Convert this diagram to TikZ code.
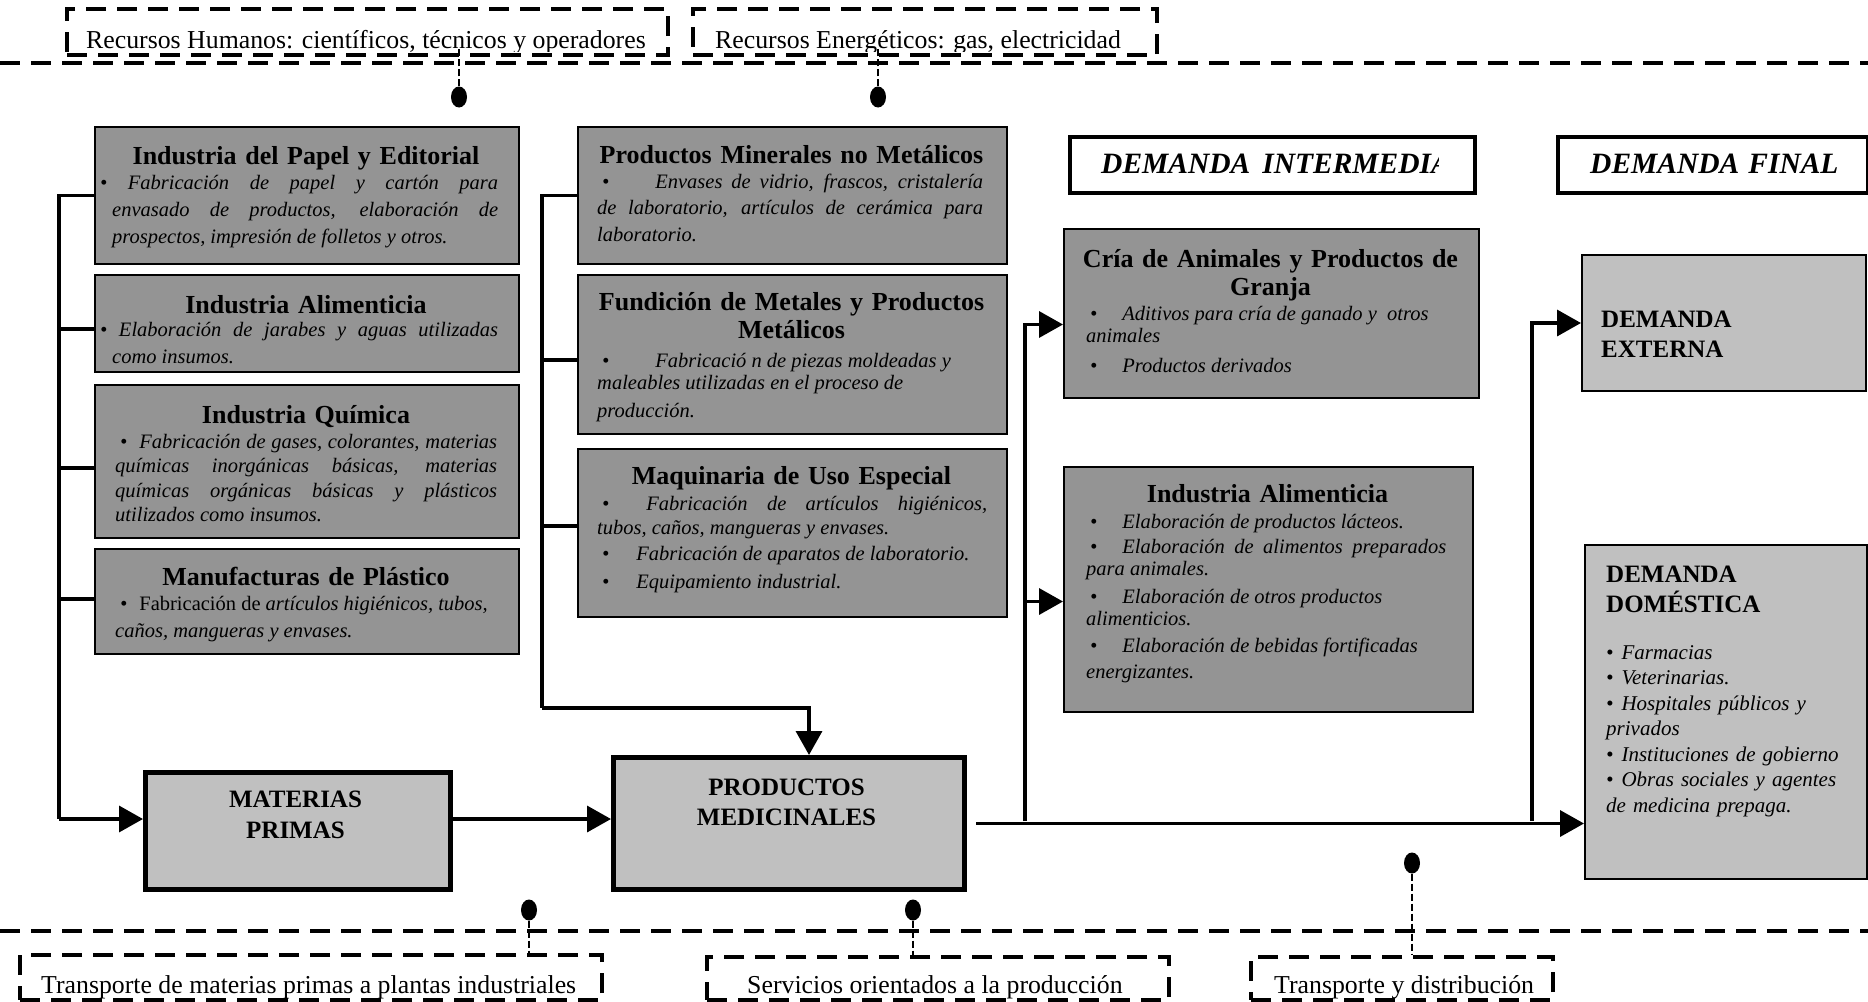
\documentclass[tikz,border=0pt]{standalone}
\usepackage{fontspec}
\setmainfont{Liberation Serif}
\usetikzlibrary{arrows.meta,shapes.geometric,calc}
\definecolor{dkgray}{RGB}{148,148,148}
\definecolor{ltgray}{RGB}{192,192,192}
\newcommand{\ttlf}{\fontsize{26}{28}\selectfont\bfseries}
\newcommand{\bdyfs}[1]{\fontsize{20.5}{#1}\selectfont\itshape}
\newcommand{\lblf}{\fontsize{25}{30}\selectfont\bfseries}
\newcommand{\rsf}{\fontsize{25.8}{30}\selectfont}
\newcommand{\dmf}{\fontsize{29.5}{32}\selectfont\bfseries\itshape}
\newcommand{\bul}[1]{\hspace*{5pt}\textbullet\hspace{#1}}
\newcommand{\bll}{\hspace*{4pt}\textbullet\hspace{25pt}}
\begin{document}
\begin{tikzpicture}[x=1pt,y=-1pt,
 dbox/.style={draw=black, line width=2pt, fill=dkgray, inner sep=0pt, anchor=north west},
 lbox/.style={draw=black, line width=5pt, fill=ltgray, inner sep=0pt, anchor=north west},
 ebox/.style={draw=black, line width=2pt, fill=ltgray, inner sep=0pt, anchor=north west},
 hbox/.style={draw=black, line width=4pt, fill=white, inner sep=0pt, anchor=north west},
 dashbox/.style={draw=black, line width=4pt, dash pattern=on 20pt off 11pt, inner sep=0pt, anchor=north west},
 ttl/.style={inner sep=0pt, anchor=base, font=\ttlf, align=center},
 bdy/.style={inner sep=0pt, anchor=base west, align=justify},
 lbl/.style={inner sep=0pt, anchor=base, font=\lblf, align=center},
 rs/.style={inner sep=0pt, anchor=base west, font=\rsf},
 conn/.style={line width=3.5pt},
 arr/.style={conn, -{Triangle[length=24pt,width=26pt]}},
 dline/.style={line width=4pt, dash pattern=on 20pt off 11pt},
 dotline/.style={line width=2.5pt, dash pattern=on 7pt off 3pt},
 blob/.style={ellipse, fill=black, minimum width=16pt, minimum height=21pt, inner sep=0pt},
]
\useasboundingbox (0,0) rectangle (1868,1001);

% ---------- top resources ----------
\begin{scope}
\clip (65,7) rectangle (666,51);
\node[rs] (T1) at (86,48) {Recursos Humanos: científicos, técnicos y operadores};
\end{scope}
\begin{scope}
\clip (691,7) rectangle (1155,51);
\node[rs] (T2) at (715,48) {Recursos Energéticos: gas, electricidad};
\end{scope}
\node[dashbox, minimum width=601pt, minimum height=46pt] (TB1) at (65,7) {};
\node[dashbox, minimum width=464pt, minimum height=46pt] (TB2) at (691,7) {};
\draw[dline] (0,63) -- (1868,63);
\node[blob] (D1) at (459,97) {};
\node[blob] (D2) at (878,97) {};
\draw[dotline] (D1.north) -- (D1 |- T1.base);
\draw[dotline] (D2.north) -- (D2 |- T2.base);

% ---------- left column ----------
\node[dbox, minimum width=424pt, minimum height=137pt] (A) at (94,126) {};
\node[dbox, minimum width=424pt, minimum height=97pt] (B) at (94,274) {};
\node[dbox, minimum width=424pt, minimum height=153pt] (C) at (94,384) {};
\node[dbox, minimum width=424pt, minimum height=105pt] (D) at (94,548) {};

\node[ttl, text width=410pt] (At) at (306,164) {Industria del Papel y Editorial};
\node[bdy, text width=386pt, font=\bdyfs{27}] (Ab) at (112,189) {\noindent\hspace*{-12pt}\textbullet\ Fabricación de papel y cartón para\linebreak envasado de productos, elaboración de\linebreak prospectos, impresión de folletos y otros.};
\node[ttl, text width=410pt] (Bt) at (306,313) {Industria Alimenticia};
\node[bdy, text width=386pt, font=\bdyfs{27}] (Bb) at (112,336) {\noindent\hspace*{-12pt}\textbullet\ Elaboración de jarabes y aguas utilizadas\linebreak como insumos.};
\node[ttl, text width=410pt] (Ct) at (306,423) {Industria Química};
\node[bdy, text width=382pt, font=\bdyfs{24.5}] (Cb) at (115,448) {\noindent\bul{12pt}Fabricación de gases, colorantes, materias\linebreak químicas inorgánicas básicas, materias\linebreak químicas orgánicas básicas y plásticos\linebreak utilizados como insumos.};
\node[ttl, text width=410pt] (Dt) at (306,585) {Manufacturas de Plástico};
\node[bdy, text width=382pt, font=\bdyfs{27}] (Db) at (115,610) {\noindent\bul{12pt}{\upshape Fabricación de} artículos higiénicos, tubos,\\ caños, mangueras y envases.};

% ---------- middle column ----------
\node[dbox, minimum width=429pt, minimum height=137pt] (E) at (577,126) {};
\node[dbox, minimum width=429pt, minimum height=159pt] (F) at (577,274) {};
\node[dbox, minimum width=429pt, minimum height=168pt] (G) at (577,448) {};

\node[ttl, text width=415pt] (Et) at (791.5,163) {Productos Minerales no Metálicos};
\node[bdy, text width=386pt, font=\bdyfs{26.5}] (Eb) at (597,188) {\noindent\bul{46pt}Envases de vidrio, frascos, cristalería\linebreak de laboratorio, artículos de cerámica para\linebreak laboratorio.};
\node[ttl, text width=415pt] (Ft) at (791.5,310) {Fundición de Metales y Productos\\Metálicos};
\node[bdy, text width=386pt, font=\bdyfs{22}] (Fb) at (597,367) {\noindent\bul{46pt}Fabricació n de piezas moldeadas y\\ maleables utilizadas en el proceso de\\[6pt] producción.};
\node[ttl, text width=415pt] (Gt) at (791.5,484) {Maquinaria de Uso Especial};
\node[bdy, text width=390pt, font=\bdyfs{24}] (Gb) at (597,510) {\noindent\bul{37pt}Fabricación de artículos higiénicos,\linebreak tubos, caños, mangueras y envases.\\[2pt] \bul{27pt}Fabricación de aparatos de laboratorio.\\[4pt] \bul{27pt}Equipamiento industrial.};

% ---------- raw materials / medicinal products ----------
\node[lbox, minimum width=305pt, minimum height=117pt] (MP) at (143,770) {};
\node[lbox, minimum width=351pt, minimum height=132pt] (PM) at (611,755) {};
\node[lbl, text width=290pt, font=\fontsize{25}{31}\selectfont\bfseries] (MPt) at (295.5,807) {MATERIAS\\PRIMAS};
\node[lbl, text width=340pt] (PMt) at (786.5,795) {PRODUCTOS\\MEDICINALES};

% ---------- demand headers ----------
\node[hbox, minimum width=405pt, minimum height=56pt] (DI) at (1068,135) {};
\node[hbox, minimum width=310pt, minimum height=56pt] (DF) at (1556,135) {};
\begin{scope}
\clip (1070,137) rectangle (1438,189);
\node[inner sep=0pt, anchor=base west, font=\dmf] (DIt) at (1101,173) {DEMANDA\hspace{12pt}INTERMEDIA};
\end{scope}
\begin{scope}
\clip (1558,137) rectangle (1839,189);
\node[inner sep=0pt, anchor=base west, font=\dmf] (DFt) at (1590,173) {DEMANDA\hspace{9pt}FINAL};
\end{scope}

% ---------- intermediate demand ----------
\node[dbox, minimum width=415pt, minimum height=169pt] (H) at (1063,228) {};
\node[dbox, minimum width=409pt, minimum height=245pt] (I) at (1063,466) {};
\node[ttl, text width=400pt] (Ht) at (1270.5,267) {Cría de Animales y Productos de\\Granja};
\node[bdy, text width=360pt, font=\bdyfs{22}] (Hb) at (1086,320) {\noindent\bll Aditivos para cría de ganado y\ \ otros\\ animales\\[8pt] \bll Productos derivados};
\node[ttl, text width=400pt] (It) at (1267.5,502) {Industria Alimenticia};
\node[bdy, text width=360pt, font=\bdyfs{22}] (Ib) at (1086,528) {\noindent\bll Elaboración de productos lácteos.\\[3pt] \bll Elaboración de alimentos preparados\linebreak para animales.\\[6pt] \bll Elaboración de otros productos\\ alimenticios.\\[5pt] \bll Elaboración de bebidas fortificadas\\[4pt] energizantes.};

% ---------- final demand ----------
\node[ebox, minimum width=284pt, minimum height=136pt] (EXT) at (1581,254) {};
\node[ebox, minimum width=282pt, minimum height=334pt] (DOM) at (1584,544) {};
\node[inner sep=0pt, anchor=base west, font=\lblf, text width=250pt, align=left] (EXTt) at (1601,327) {DEMANDA\\EXTERNA};
\node[inner sep=0pt, anchor=base west, font=\lblf, text width=250pt, align=left] (DOMt) at (1606,582) {DEMANDA\\DOMÉSTICA};
\node[inner sep=0pt, anchor=base west, font=\fontsize{21}{25.5}\selectfont\itshape, text width=258pt, align=left] (DOMb) at (1606,659) {\textbullet\hspace{8pt}Farmacias\\ \textbullet\hspace{8pt}Veterinarias.\\ \textbullet\hspace{8pt}Hospitales públicos y\\ privados\\ \textbullet\hspace{8pt}Instituciones de gobierno\\ \textbullet\hspace{8pt}Obras sociales y agentes\\ de medicina prepaga.};

% ---------- connectors ----------
\coordinate (L1) at (59,819);
\coordinate (M1) at (542,708);
\coordinate (R1) at (1025,821);
\coordinate (R2) at (1532,821);

\draw[conn] (A.west) -| (L1);
\draw[conn] ([yshift=-5.5pt]B.west) -- ([yshift=-5.5pt]B.west -| L1);
\draw[conn] ([yshift=-6.5pt]C.west) -- ([yshift=-6.5pt]C.west -| L1);
\draw[conn] ([yshift=2.5pt]D.west) -- ([yshift=2.5pt]D.west -| L1);
\draw[arr] (L1) -- (MP.west |- L1);
\draw[arr] (MP.east |- L1) -- (PM.west |- L1);

\draw[conn] (E.west) -| (M1);
\draw[conn] ([yshift=-5.5pt]F.west) -- ([yshift=-5.5pt]F.west -| M1);
\draw[conn] ([yshift=7pt]G.west) -- ([yshift=7pt]G.west -| M1);
\draw[arr] (M1) -| ([xshift=20pt]PM.north);

\draw[arr] ([xshift=9pt]PM.east) -- (DOM.west |- PM.east);
\draw[arr] (R1) |- ([yshift=-11pt]H.west);
\draw[arr] (R1) |- ([yshift=-12pt]I.west);
\draw[arr] (R2) |- (EXT.west);

% ---------- bottom services ----------
\draw[dline] (0,931) -- (1868,931);
\node[rs] (BT1) at (41,993) {Transporte de materias primas a plantas industriales};
\node[rs] (BT2) at (747,993) {Servicios orientados a la producción};
\node[rs] (BT3) at (1274,993) {Transporte y distribución};
\node[dashbox, minimum width=582pt, minimum height=45pt] (BB1) at (18,953) {};
\node[dashbox, minimum width=462pt, minimum height=43pt] (BB2) at (705,955) {};
\node[dashbox, minimum width=302pt, minimum height=43pt] (BB3) at (1249,955) {};
\node[blob] (BD1) at (529,910) {};
\node[blob] (BD2) at (913,910) {};
\node[blob] (BD3) at (1412,863) {};
\draw[dotline] (BD1.south) -- (BD1 |- BB1.north);
\draw[dotline] (BD2.south) -- (BD2 |- BB2.north);
\draw[dotline] (BD3.south) -- (BD3 |- BB3.north);
\end{tikzpicture}
\end{document}
